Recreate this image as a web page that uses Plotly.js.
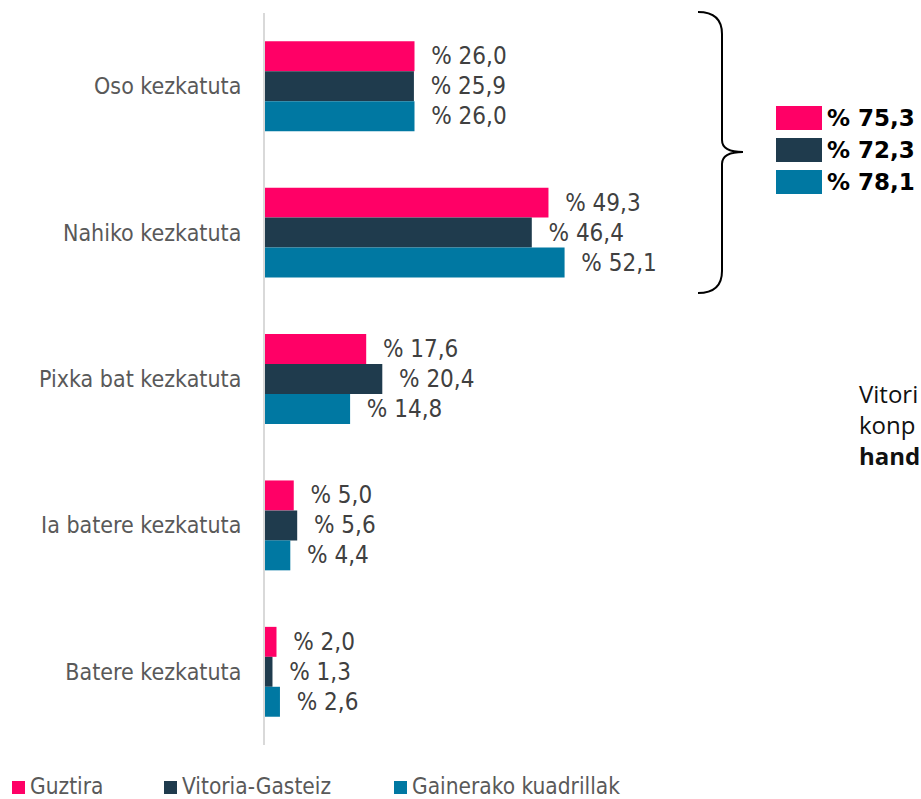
<!DOCTYPE html>
<html>
<head>
<meta charset="utf-8">
<script src="https://cdn.plot.ly/plotly-3.0.1.min.js"></script>
<style>html,body{margin:0;padding:0;background:#fff;}#chart{width:921px;height:799px;}</style>
</head>
<body>
<div id="chart"></div>
<script>
// ---- data ----
var categories = ["Oso kezkatuta", "Nahiko kezkatuta", "Pixka bat kezkatuta", "Ia batere kezkatuta", "Batere kezkatuta"];
var seriesNames = ["Guztira", "Vitoria-Gasteiz", "Gainerako kuadrillak"];
var guztira = [26.0, 49.3, 17.6, 5.0, 2.0];
var vitoriaGasteiz = [25.9, 46.4, 20.4, 5.6, 1.3];
var gainerakoKuadrillak = [26.0, 52.1, 14.8, 4.4, 2.6];
var kezkatutaTotals = [75.3, 72.3, 78.1];
var sideTextLines = ["Vitori", "konp", "<b>hand</b>"];

var colors = ["#FF0066", "#1F3B4D", "#0078A2"];
var seriesValues = [guztira, vitoriaGasteiz, gainerakoKuadrillak];

// ---- geometry helpers (pixel -> paper) ----
var L = 265, R = 81, T = 13, B = 54, W = 921, H = 799;
var PW = W - L - R, PH = H - T - B;
function px(x) { return (x - L) / PW; }
function py(y) { return (H - B - y) / PH; }

var condensed = "DejaVu Sans Condensed, DejaVu Sans, sans-serif";

var traces = seriesValues.map(function (vals, i) {
  return {
    type: "bar",
    orientation: "h",
    name: seriesNames[i],
    y: categories,
    x: vals,
    marker: { color: colors[i], line: { width: 0 } },
    texttemplate: "\u00a0\u00a0% %{x:.1f}",
    textposition: "outside",
    constraintext: "none",
    cliponaxis: false,
    textfont: { family: condensed, size: 24, color: "#404040" },
    hoverinfo: "skip",
    showlegend: false
  };
});

function fmt(v) { return v.toFixed(1).replace(".", ","); }

// brace path
var bracePts = "M" + px(698) + "," + py(12) +
  " Q" + px(722) + "," + py(12) + " " + px(722) + "," + py(34) +
  " L" + px(722) + "," + py(140) +
  " Q" + px(722) + "," + py(152) + " " + px(743) + "," + py(152) +
  " Q" + px(722) + "," + py(152) + " " + px(722) + "," + py(164) +
  " L" + px(722) + "," + py(271) +
  " Q" + px(722) + "," + py(293) + " " + px(698) + "," + py(293);

var shapes = [{
  type: "path", xref: "paper", yref: "paper", path: bracePts,
  line: { color: "#000000", width: 2 }
}];
var annotations = [];
var boxTops = [106, 138, 170];
kezkatutaTotals.forEach(function (v, i) {
  shapes.push({
    type: "rect", xref: "paper", yref: "paper",
    x0: px(776), x1: px(822), y0: py(boxTops[i]), y1: py(boxTops[i] + 24),
    fillcolor: colors[i], line: { width: 0 }
  });
  annotations.push({
    xref: "paper", yref: "paper", x: px(825), y: py(boxTops[i] + 12),
    xanchor: "left", yanchor: "middle", showarrow: false,
    text: "<b>% " + fmt(v) + "</b>",
    font: { family: "DejaVu Sans, sans-serif", size: 23, color: "#000000" }
  });
});
annotations.push({
  xref: "paper", yref: "paper", x: px(857), y: py(375), xanchor: "left", yanchor: "top",
  align: "left", showarrow: false, text: sideTextLines.join("<br>"),
  font: { family: "Open Sans, sans-serif", size: 24, color: "#111111" }
});

// custom legend (squares + names)
var legSquareX = [12, 164, 394];
seriesNames.forEach(function (name, i) {
  shapes.push({
    type: "rect", xref: "paper", yref: "paper",
    x0: px(legSquareX[i]), x1: px(legSquareX[i] + 13), y0: py(781), y1: py(794),
    fillcolor: colors[i], line: { width: 0 }
  });
  annotations.push({
    xref: "paper", yref: "paper", x: px(legSquareX[i] + 16), y: py(786),
    xanchor: "left", yanchor: "middle", showarrow: false, text: name,
    font: { family: condensed, size: 22.5, color: "#595959" }
  });
});

var layout = {
  width: W, height: H,
  margin: { l: L, r: R, t: T, b: B, pad: 0, autoexpand: false },
  paper_bgcolor: "#ffffff", plot_bgcolor: "#ffffff",
  separators: ",.",
  barmode: "group", bargap: 0.386, bargroupgap: 0,
  showlegend: false,
  xaxis: { range: [0, 100], showgrid: false, zeroline: false, showticklabels: false, showline: false, fixedrange: true, automargin: false },
  yaxis: { type: "category", autorange: "reversed", showgrid: false, zeroline: false, automargin: false,
    showline: true, linecolor: "#D9D9D9", linewidth: 2, ticks: "", ticklabelstandoff: 17,
    tickfont: { family: condensed, size: 23, color: "#595959" }, fixedrange: true },
  shapes: shapes,
  annotations: annotations
};

Plotly.newPlot("chart", traces, layout, { displayModeBar: false, staticPlot: true });
</script>
</body>
</html>
